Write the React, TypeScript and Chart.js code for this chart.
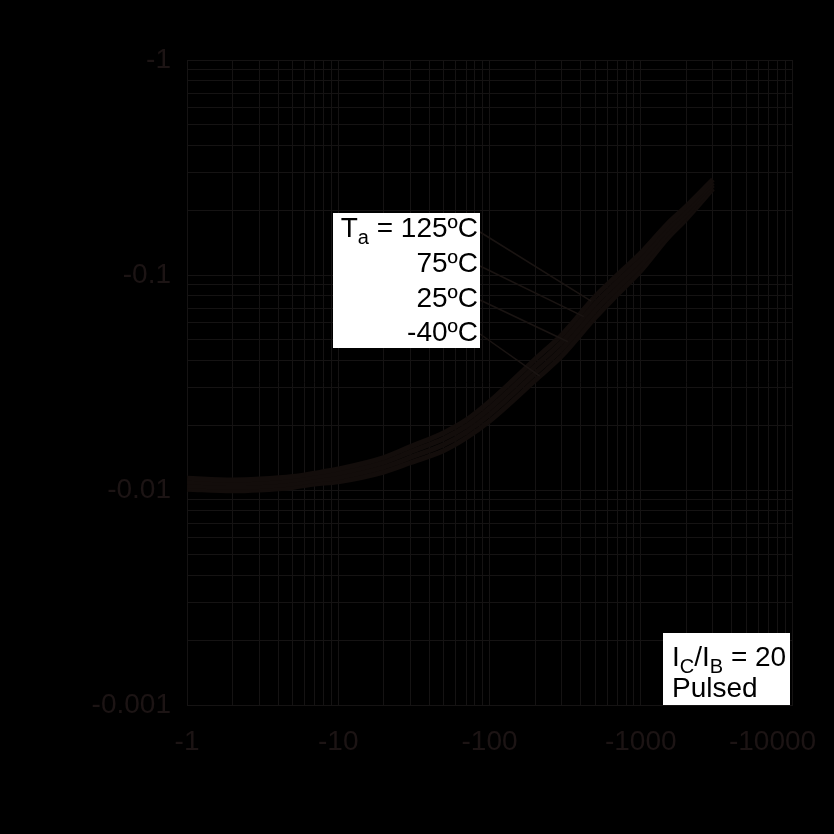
import React, { useEffect, useRef } from "react";
import { Chart, registerables } from "chart.js";

Chart.register(...registerables);

// Collector current (mA, magnitude; shown as negative)
const currents = [1, 2, 3, 5, 7, 10, 20, 30, 50, 70, 100, 200, 300, 500, 700, 1000, 1500, 2000, 3000];
// VCE(sat) magnitude (V) per ambient temperature
const vce125 = [0.01134, 0.01113, 0.01124, 0.01155, 0.01198, 0.01252, 0.01415, 0.01591, 0.01848, 0.02112, 0.02575, 0.04054, 0.05264, 0.07952, 0.0999, 0.1265, 0.1728, 0.2087, 0.278];
const vce75 = [0.01091, 0.01071, 0.01081, 0.01112, 0.01153, 0.01197, 0.01344, 0.01504, 0.01734, 0.01981, 0.02401, 0.03758, 0.04879, 0.0737, 0.09315, 0.1187, 0.1642, 0.1995, 0.269];
const vce25 = [0.01049, 0.01029, 0.01039, 0.01069, 0.01108, 0.01144, 0.01277, 0.01417, 0.01628, 0.0186, 0.02242, 0.03487, 0.04528, 0.0684, 0.08696, 0.1114, 0.1559, 0.1906, 0.261];
const vceM40 = [0.01009, 0.00991, 0.01, 0.01028, 0.01066, 0.01093, 0.01213, 0.01339, 0.01527, 0.01745, 0.0209, 0.03232, 0.04196, 0.06339, 0.08108, 0.1045, 0.1481, 0.1822, 0.252];

const seriesLabels = ["125ºC", "75ºC", "25ºC", "-40ºC"];
const leaderTargets = [470, 420, 330, 215];

const xDecades = [1, 10, 100, 1000, 10000];
const xTickLabels = ["-1", "-10", "-100", "-1000", "-10000     "];
const yDecades = [0.001, 0.01, 0.1, 1];
const yTickLabels = ["-0.001", "-0.01", "-0.1", "-1"];

const GRID = "#151313";
const TEXT = "#1c1414";
const CURVE = "#130d0b";
const FONT = "'Liberation Sans', Arial, sans-serif";

function gridValues(decades: number[]) {
  const out: number[] = [];
  for (let i = 0; i < decades.length - 1; i++) {
    for (let m = 1; m < 10; m++) out.push(decades[i] * m);
  }
  out.push(decades[decades.length - 1]);
  return out;
}

function interpLog(xs: number[], ys: number[], x: number) {
  for (let i = 0; i < xs.length - 1; i++) {
    if (x >= xs[i] && x <= xs[i + 1]) {
      const t = (Math.log10(x) - Math.log10(xs[i])) / (Math.log10(xs[i + 1]) - Math.log10(xs[i]));
      return Math.pow(10, Math.log10(ys[i]) + t * (Math.log10(ys[i + 1]) - Math.log10(ys[i])));
    }
  }
  return ys[ys.length - 1];
}

type Part = { t: string; sub?: boolean };
function drawParts(ctx: CanvasRenderingContext2D, parts: Part[], x: number, y: number, align: "left" | "right", size: number) {
  const main = `${size}px ${FONT}`;
  const small = `${Math.round(size * 0.72)}px ${FONT}`;
  let total = 0;
  parts.forEach((p) => {
    ctx.font = p.sub ? small : main;
    total += ctx.measureText(p.t).width;
  });
  let cx = align === "right" ? x - total : x;
  ctx.textAlign = "left";
  ctx.textBaseline = "alphabetic";
  parts.forEach((p) => {
    ctx.font = p.sub ? small : main;
    ctx.fillText(p.t, cx, p.sub ? y + 7 : y);
    cx += ctx.measureText(p.t).width;
  });
}

const series = [vce125, vce75, vce25, vceM40];

const annotationPlugin = {
  id: "annots",
  afterDatasetsDraw(chart: any) {
    const ctx = chart.ctx as CanvasRenderingContext2D;
    const xs = chart.scales.x;
    const ys = chart.scales.y;
    ctx.save();
    // leader lines
    const starts = [232, 266, 300, 334];
    ctx.strokeStyle = "#1a1412";
    ctx.lineWidth = 1.5;
    series.forEach((s, i) => {
      const tx = leaderTargets[i];
      const ty = interpLog(currents, s, tx);
      ctx.beginPath();
      ctx.moveTo(480, starts[i]);
      ctx.lineTo(xs.getPixelForValue(tx), ys.getPixelForValue(ty));
      ctx.stroke();
    });
    // box 1
    ctx.fillStyle = "#ffffff";
    ctx.fillRect(333, 213, 147, 135);
    ctx.fillStyle = "#000000";
    drawParts(ctx, [{ t: "T" }, { t: "a", sub: true }, { t: " = " + seriesLabels[0] }], 478, 237, "right", 28);
    drawParts(ctx, [{ t: seriesLabels[1] }], 478, 272, "right", 28);
    drawParts(ctx, [{ t: seriesLabels[2] }], 478, 307, "right", 28);
    drawParts(ctx, [{ t: seriesLabels[3] }], 478, 341, "right", 28);
    // box 2
    ctx.fillStyle = "#ffffff";
    ctx.fillRect(663, 633, 127, 72);
    ctx.fillStyle = "#000000";
    drawParts(ctx, [{ t: "I" }, { t: "C", sub: true }, { t: "/I" }, { t: "B", sub: true }, { t: " = 20" }], 672, 666, "left", 28);
    drawParts(ctx, [{ t: "Pulsed" }], 672, 697, "left", 28);
    ctx.restore();
  },
};

export default function App() {
  const ref = useRef<HTMLCanvasElement>(null);
  useEffect(() => {
    if (!ref.current) return;
    const xGrid = gridValues(xDecades);
    const yGrid = gridValues(yDecades);
    const chart = new Chart(ref.current, {
      type: "line",
      data: {
        datasets: series.map((s, i) => ({
          label: seriesLabels[i],
          data: currents.map((c, j) => ({ x: c, y: s[j] })),
          borderColor: CURVE,
          borderWidth: 5,
          pointRadius: 0,
          cubicInterpolationMode: "monotone",
          fill: false,
        })),
      },
      options: {
        animation: false,
        responsive: false,
        maintainAspectRatio: false,
        layout: { padding: { left: 0, top: 60, right: 42, bottom: 0 } },
        plugins: { legend: { display: false }, tooltip: { enabled: false } },
        scales: {
          x: {
            type: "logarithmic",
            min: 1,
            max: 10000,
            afterBuildTicks: (s: any) => {
              s.ticks = xGrid.map((v) => ({ value: v }));
            },
            afterFit: (s: any) => {
              s.height = 129;
              s.paddingLeft = 0;
              s.paddingRight = 0;
            },
            ticks: {
              autoSkip: false,
              maxRotation: 0,
              padding: 20,
              color: TEXT,
              font: { size: 28, family: FONT },
              callback: (v: any) => {
                const k = xDecades.indexOf(Number(v));
                return k >= 0 ? xTickLabels[k] : "";
              },
            },
            grid: { color: GRID, lineWidth: 1, drawTicks: false },
            border: { color: GRID },
          },
          y: {
            type: "logarithmic",
            min: 0.001,
            max: 1,
            afterBuildTicks: (s: any) => {
              s.ticks = yGrid.map((v) => ({ value: v }));
            },
            afterFit: (s: any) => {
              s.width = 187;
              s.paddingTop = 0;
              s.paddingBottom = 0;
            },
            ticks: {
              autoSkip: false,
              padding: 16,
              color: TEXT,
              font: { size: 28, family: FONT },
              callback: (v: any) => {
                const k = yDecades.findIndex((d) => Math.abs(d - Number(v)) / d < 1e-6);
                return k >= 0 ? yTickLabels[k] : "";
              },
            },
            grid: { color: GRID, lineWidth: 1, drawTicks: false },
            border: { color: GRID },
          },
        },
      },
      plugins: [annotationPlugin],
    } as any);
    return () => chart.destroy();
  }, []);
  return (
    <div style={{ position: "fixed", left: 0, top: 0, width: 834, height: 834, background: "#000" }}>
      <canvas ref={ref} width={834} height={834} style={{ width: 834, height: 834, display: "block" }} />
    </div>
  );
}
